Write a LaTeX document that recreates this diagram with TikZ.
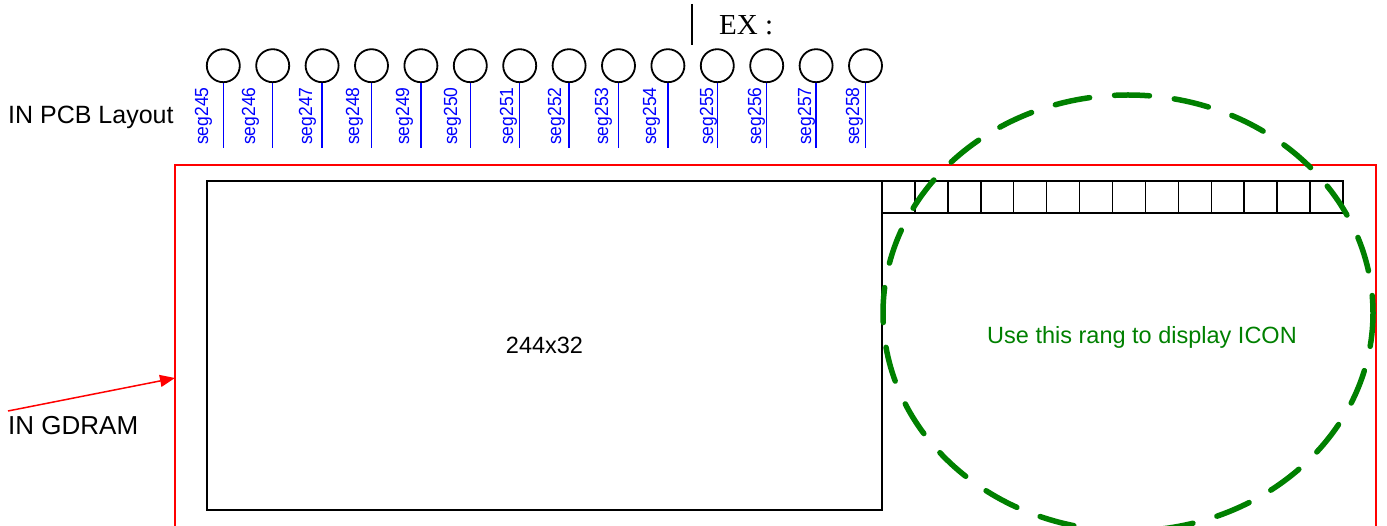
\documentclass[tikz,border=0pt]{standalone}
\usepackage{fontspec}
\setmainfont{Liberation Sans}
\newfontfamily\exserif{Liberation Serif}
\usetikzlibrary{arrows.meta,shapes.geometric}
\definecolor{icongreen}{RGB}{0,128,0}
\begin{document}
\begin{tikzpicture}[x=1pt,y=-1pt,
  pinball/.style={circle,draw=black,line width=1.8pt,minimum size=33pt,inner sep=0pt},
  lead/.style={draw=blue,line width=1.5pt},
  seglabel/.style={rotate=90,anchor=base west,text=blue,inner sep=0pt,font=\fontsize{19}{19}\selectfont},
  frame/.style={draw=black,line width=1.5pt,inner sep=0pt},
  cellbox/.style={draw=black,line width=1.5pt,minimum width=32.93pt,minimum height=32pt,inner sep=0pt},
  plain/.style={inner sep=0pt,text=black},
  dashring/.style={draw=icongreen,line width=5.5pt,line cap=round,dash pattern=on 35pt off 25pt,dash phase=17.5pt,ellipse,minimum width=490pt,minimum height=436pt,inner sep=0pt}]
\useasboundingbox (0,0) rectangle (1387,526);
\clip (0,0) rectangle (1387,526);

% red GDRAM frame
\draw[red,line width=1.5pt] (175,165) rectangle (1376,580);
\coordinate (gdramtip) at (175,378);

% main display area
\node[frame,minimum width=675pt,minimum height=329pt,font=\fontsize{23.5}{24}\selectfont] (lcd) at (544.5,345.5) {244x32};

% icon cells
\foreach \k in {0,...,13}{
  \pgfmathsetmacro\cx{882+32.93*\k+16.465}
  \node[cellbox] (cell\k) at (\cx,197) {};
}

% seg pins
\foreach \i/\bx in {0/208,1/255,2/312,3/359,4/409,5/457,6/513,7/561,8/608,9/656,10/713,11/761,12/811,13/859}{
  \pgfmathsetmacro\cx{223.3+49.4*\i}
  \pgfmathtruncatemacro\n{245+\i}
  \node[pinball] (pin\i) at (\cx,65.7) {};
  \coordinate (end\i) at (\cx,148);
  \draw[lead] (pin\i.south) -- (end\i);
  \node[seglabel] (lab\i) at (\bx,145) {\scalebox{0.92}[1]{seg\n}};
}

% EX marker
\coordinate (exA) at (691.7,4);
\coordinate (exB) at (691.7,45);
\draw[line width=2pt] (exA) -- (exB);
\node[plain,anchor=base west,font=\exserif\fontsize{29}{30}\selectfont] (ex) at (719,35) {EX :};

% labels
\node[plain,anchor=base west,font=\fontsize{25}{26}\selectfont] (pcb) at (8,123.5) {IN PCB Layout};
\node[plain,anchor=base west,font=\fontsize{26}{26}\selectfont] (gdram) at (8,435) {IN GDRAM};
\coordinate (gdramtail) at (8,411);
\draw[red,line width=1.5pt,-{Triangle[length=15pt,width=12pt]}] (gdramtail) -- (gdramtip);

% icon range
\node[dashring] (ring) at (1128,313) {};
\node[plain,text=icongreen,font=\fontsize{23.5}{24}\selectfont] (icontext) at (1142,337) {Use this rang to display ICON};
\end{tikzpicture}
\end{document}
